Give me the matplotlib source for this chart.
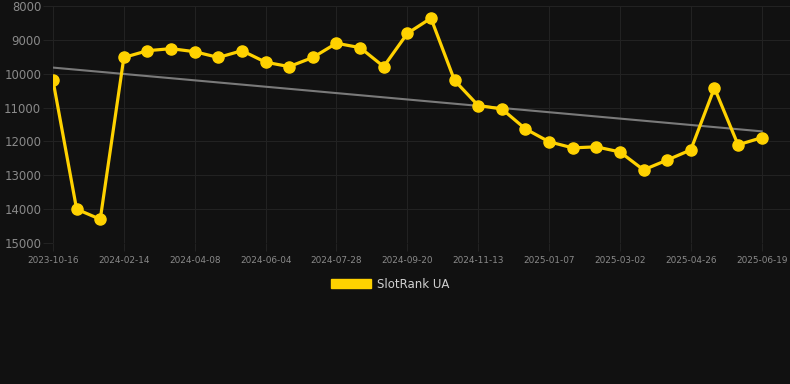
import numpy as np
import matplotlib
matplotlib.use('Agg')
import matplotlib.pyplot as plt
from matplotlib.patches import Patch

# data (rank, lower is better)
dates = ['2023-10-16', '2023-12-05', '2024-01-25', '2024-02-14', '2024-03-03', '2024-03-21',
         '2024-04-08', '2024-04-26', '2024-05-17', '2024-06-04', '2024-06-22', '2024-07-10',
         '2024-07-28', '2024-08-15', '2024-09-02', '2024-09-20', '2024-10-08', '2024-10-26',
         '2024-11-13', '2024-12-01', '2024-12-20', '2025-01-07', '2025-01-25', '2025-02-12',
         '2025-03-02', '2025-03-20', '2025-04-08', '2025-04-26', '2025-05-14', '2025-06-01',
         '2025-06-19']
ranks = [10200, 14000, 14300, 9520, 9320, 9260, 9350, 9520, 9320, 9660, 9790, 9520,
         9100, 9230, 9790, 8810, 8360, 10200, 10940, 11040, 11630, 12010, 12190, 12160,
         12310, 12840, 12550, 12250, 10420, 12100, 11890]
tick_every = 3

bg = '#111111'
yellow = '#FFD200'
grid_col = '#222222'
txt_col = '#8a8a8a'

fig = plt.figure(figsize=(7.9, 3.84), dpi=100, facecolor=bg)
ax = fig.add_axes([53 / 790, 1 - 243 / 384, (790 - 53) / 790, (243 - 6) / 384])
ax.set_facecolor(bg)

x = np.arange(len(ranks))

# trend line (least squares fit)
k, b = np.polyfit(x, ranks, 1)
ax.plot(x, k * x + b, color='#7a7a7a', lw=1.5, zorder=2)

ax.plot(x, ranks, color=yellow, lw=2.3, marker='o', markersize=8,
        markerfacecolor=yellow, markeredgecolor=yellow, zorder=3)

ax.set_xlim(0, 31.2)
ax.set_ylim(15000, 8000)
ax.set_yticks(range(8000, 15001, 1000))
ax.set_xticks(x[::tick_every])
ax.set_xticklabels(dates[::tick_every])

ax.grid(True, color=grid_col, lw=0.8)
for s in ax.spines.values():
    s.set_visible(False)
ax.tick_params(axis='y', colors=grid_col, labelcolor=txt_col, labelsize=8.4, length=7, pad=1.5)
ax.tick_params(axis='x', colors=grid_col, labelcolor=txt_col, labelsize=6.4, length=6, pad=3.5)

leg = fig.legend(handles=[Patch(facecolor=yellow, edgecolor=yellow, label='SlotRank UA')],
                 loc='center', bbox_to_anchor=(390 / 790, 1 - 284 / 384), frameon=False,
                 handlelength=3.4, handleheight=0.9, handletextpad=0.5, fontsize=8.5)
for t in leg.get_texts():
    t.set_color('#d0d0d0')

plt.savefig('out.png', facecolor=bg)
plt.close()
